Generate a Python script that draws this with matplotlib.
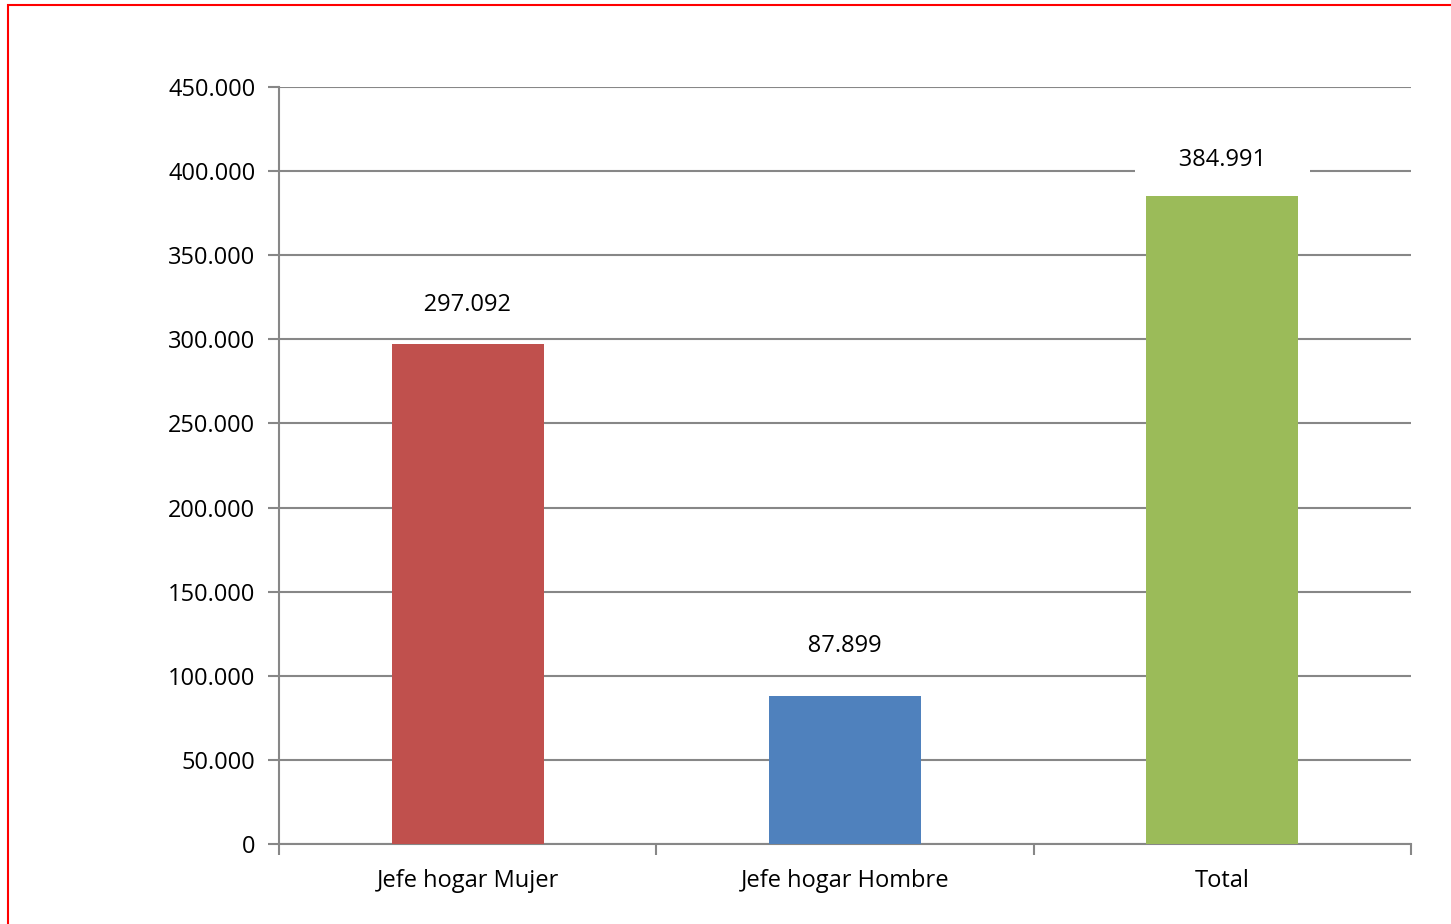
import matplotlib
matplotlib.use("Agg")
import matplotlib.pyplot as plt
from matplotlib.patches import Rectangle

categories = ["Jefe hogar Mujer", "Jefe hogar Hombre", "Total"]
values = [297092, 87899, 384991]
value_labels = ["297.092", "87.899", "384.991"]
colors = ["#C0504D", "#4F81BD", "#9BBB59"]
yticks = [0, 50000, 100000, 150000, 200000, 250000, 300000, 350000, 400000, 450000]
ytick_labels = ["0", "50.000", "100.000", "150.000", "200.000", "250.000",
                "300.000", "350.000", "400.000", "450.000"]
label_offsets_px = [42, 53, 39]

plt.rcParams['font.family'] = ['Open Sans', 'DejaVu Sans']
FS = 17
GRID = "#878787"

fig = plt.figure(figsize=(14.51, 9.24), dpi=100)
ax = fig.add_axes([279/1451, 1-844/924, (1411-279)/1451, (844-87)/924])

x = list(range(len(categories)))
ax.bar(x, values, width=0.403, color=colors, zorder=3)

ax.set_xlim(-0.5, 2.5)
ax.set_ylim(0, 450000)
ax.set_yticks(yticks)
ax.set_yticklabels(ytick_labels, fontsize=FS)
ax.set_xticks(x)
ax.set_xticklabels(categories, fontsize=FS)
ax.tick_params(axis='x', length=0, pad=18)
ax.tick_params(axis='y', length=8, color=GRID, width=1.5, pad=9)
ax.set_xticks([-0.5, 0.5, 1.5, 2.5], minor=True)
ax.tick_params(axis='x', which='minor', length=8, color=GRID, width=1.5)

ax.yaxis.grid(True, color=GRID, linewidth=1.5, zorder=0)
ax.set_axisbelow(True)
for s in ['top', 'right']:
    ax.spines[s].set_visible(False)
for s in ['left', 'bottom']:
    ax.spines[s].set_color(GRID)
    ax.spines[s].set_linewidth(1.5)

for xi, v, lab, off in zip(x, values, value_labels, label_offsets_px):
    ax.annotate("      " + lab + "      ", xy=(xi, v), xytext=(0, off), textcoords='offset pixels',
                ha='center', va='center_baseline', fontsize=FS, zorder=5,
                bbox=dict(boxstyle='square,pad=0.3', facecolor='white', edgecolor='none'))

fig.patches.append(Rectangle((8/1451, -0.1), 1.2, 1 - 5/924 + 0.1, transform=fig.transFigure,
                             fill=False, edgecolor='#FF0000', linewidth=1.5, zorder=10))

fig.savefig("out.png", dpi=100)
